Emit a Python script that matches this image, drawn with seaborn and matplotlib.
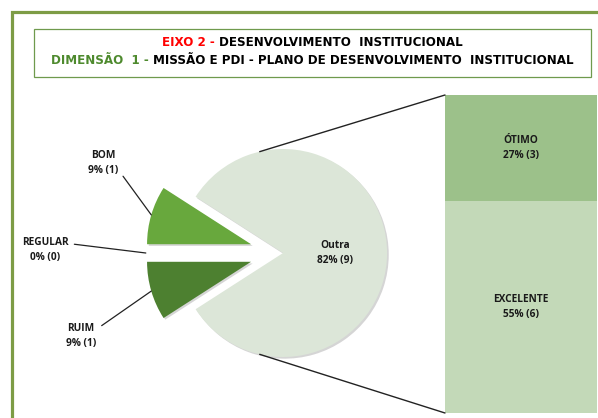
import numpy as np
import pandas as pd
import matplotlib
matplotlib.use("Agg")
import matplotlib.pyplot as plt
import matplotlib.patheffects as pe
import seaborn as sns
from matplotlib.patches import Rectangle, ConnectionPatch

# dados
pie_labels = ["Outra", "BOM", "REGULAR", "RUIM"]
pie_counts = [9, 1, 0, 1]
bar_labels = ["EXCELENTE", "ÓTIMO"]
bar_counts = [6, 3]
pie_colors = ["#dce6d8", "#68a83d", "#8fbf6a", "#4d8030"]
bar_colors = ["#c3d9b8", "#9cc18a"]
title_1 = [("EIXO 2 - ", "#ff0000"), ("DESENVOLVIMENTO  INSTITUCIONAL", "black")]
title_2 = [("DIMENSÃO  1 - ", "#4e8a2e"), ("MISSÃO E PDI - PLANO DE DESENVOLVIMENTO  INSTITUCIONAL", "black")]

total = sum(pie_counts) + sum(bar_counts) - pie_counts[0]

def pct_label(name, n):
    return f"{name}\n{100 * n / total:.0f}% ({n})"

sns.set_theme(style="white")
plt.rcParams['font.family'] = ['Open Sans', 'DejaVu Sans']
lab_kw = dict(fontsize=7.3, fontweight='bold', linespacing=1.5, color='#1a1a1a')
shadow = [pe.SimplePatchShadow(offset=(1.2, -1.2), shadow_rgbFace='#888888', alpha=0.35), pe.Normal()]

fig = plt.figure(figsize=(5.98, 4.18), dpi=100)
ax = fig.add_axes([0, 0, 1, 1])

# moldura verde e caixa do título
ax.add_patch(Rectangle((12, -30), 700, 436.5, fill=False, edgecolor="#7d9c45", lw=2.3))
ax.add_patch(Rectangle((34, 341), 557, 48, fill=False, edgecolor="#6f9a4d", lw=0.9))

radius = 104
wedges, _ = ax.pie(pie_counts, explode=[0.02 * radius, 0.3 * radius, 0.3 * radius, 0.3 * radius],
                   startangle=-180 * pie_counts[0] / total, center=(281, 165), radius=radius,
                   colors=pie_colors, wedgeprops=dict(linewidth=0))
for w in wedges:
    w.set_path_effects(shadow)
ax.set_xlim(0, 598)
ax.set_ylim(0, 418)
ax.axis('off')

# rótulo do "Outra" dentro da fatia
w0 = wedges[0]
ax.text(w0.center[0] + 0.5 * w0.r, w0.center[1], pct_label(pie_labels[0], pie_counts[0]),
        ha='center', va='center', **lab_kw)

# rótulos externos com linhas
label_pos = [(103, 255), (45, 168), (81, 82)]
rel = [(1, 0.25), (1, 0.75), (1, 0.75)]
for w, name, n, pos, rp in zip(wedges[1:], pie_labels[1:], pie_counts[1:], label_pos, rel):
    mid = np.deg2rad((w.theta1 + w.theta2) / 2)
    pt = (w.center[0] + w.r * np.cos(mid), w.center[1] + w.r * np.sin(mid))
    ax.annotate(pct_label(name, n), xy=pt, xytext=pos, ha='center', va='center',
                arrowprops=dict(arrowstyle='-', color='#222222', lw=0.9, relpos=rp, shrinkA=2, shrinkB=0),
                **lab_kw)

# barra empilhada
bax = fig.add_axes([445 / 598, 5 / 418, 152 / 598, 318 / 418])
sns.barplot(x=["a"], y=[sum(bar_counts)], color=bar_colors[1], width=1, saturation=1, linewidth=0, ax=bax)
sns.barplot(x=["a"], y=[bar_counts[0]], color=bar_colors[0], width=1, saturation=1, linewidth=0, ax=bax)
for p in bax.patches:
    p.set_path_effects(shadow)
bax.set_xlim(-0.5, 0.5)
bax.set_ylim(0, sum(bar_counts))
bax.axis('off')
bottom = 0
for name, n in zip(bar_labels, bar_counts):
    bax.text(0, bottom + n / 2, pct_label(name, n), ha='center', va='center', **lab_kw)
    bottom += n

# linhas ligando a pizza à barra
for ang, yb in [(103, sum(bar_counts)), (-103, 0)]:
    a = np.deg2rad(ang)
    pa = (w0.center[0] + w0.r * np.cos(a), w0.center[1] + w0.r * np.sin(a))
    fig.add_artist(ConnectionPatch(xyA=pa, coordsA=ax.transData, xyB=(-0.5, yb), coordsB=bax.transData,
                                   color='#222222', lw=1.0))

# título com duas cores
fig.canvas.draw()
renderer = fig.canvas.get_renderer()
for y, parts in [(376, title_1), (358, title_2)]:
    kw = dict(fontsize=8.6, fontweight='bold', family='DejaVu Sans')
    full = ax.text(312, y, "".join(p for p, _ in parts), ha='center', va='center', **kw)
    x0 = ax.transData.inverted().transform(full.get_window_extent(renderer))[0][0]
    full.remove()
    t1 = ax.text(x0, y, parts[0][0], color=parts[0][1], ha='left', va='center', **kw)
    ax.annotate(parts[1][0], xy=(1, 0), xycoords=t1, color=parts[1][1], ha='left', va='bottom', **kw)

fig.savefig("out.png", dpi=100)
